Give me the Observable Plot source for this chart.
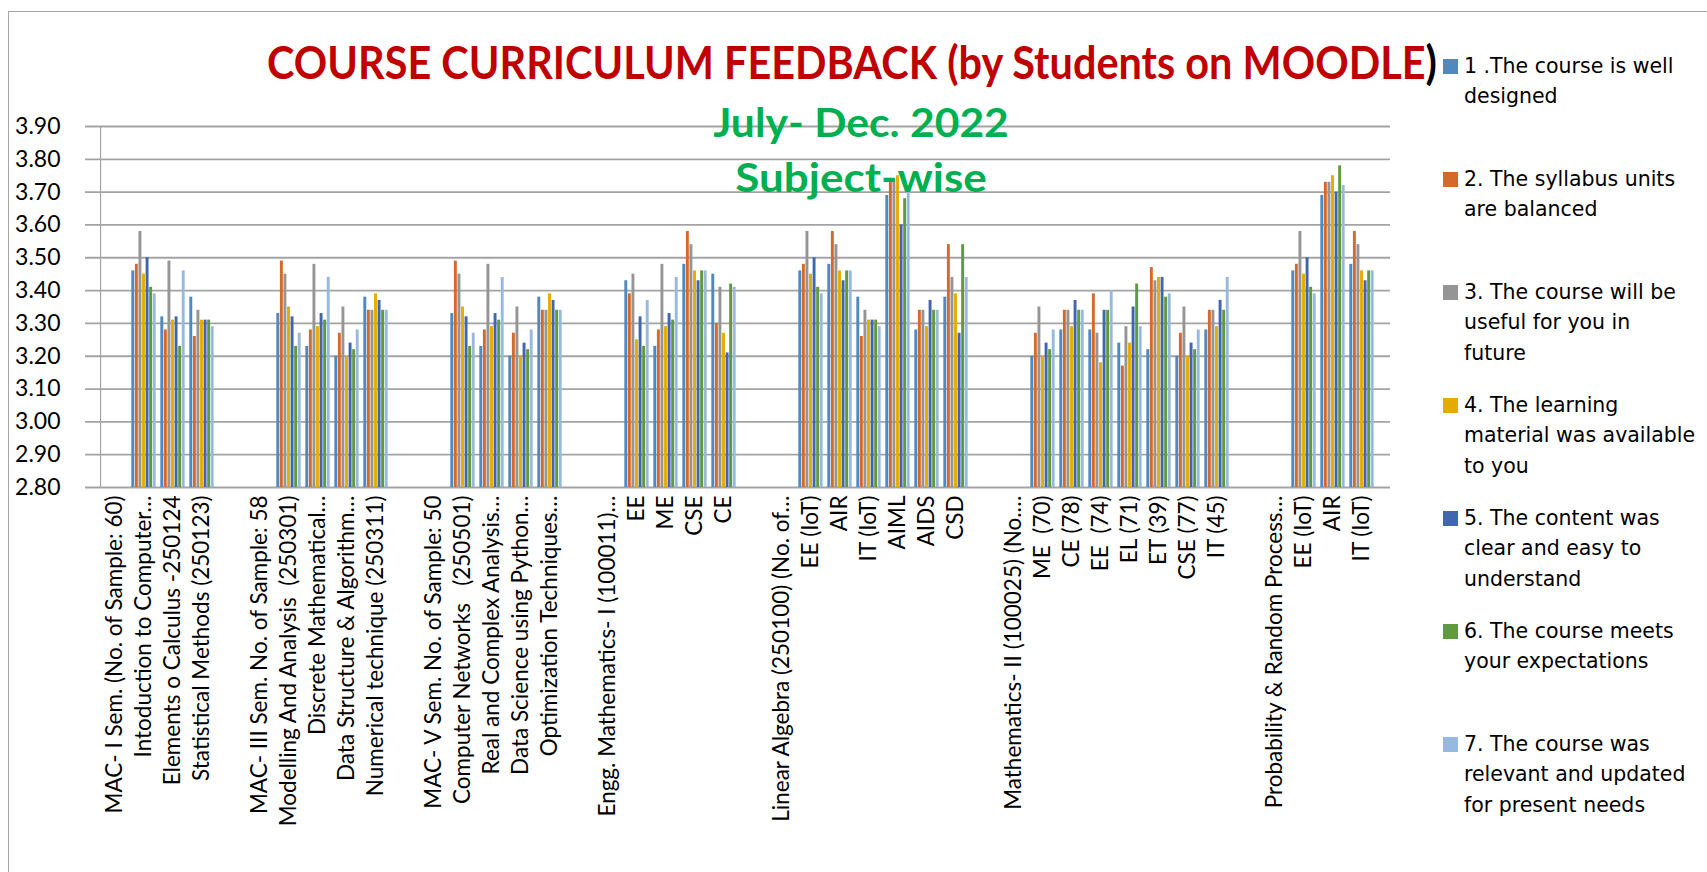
<!DOCTYPE html>
<html>
<head>
<meta charset="utf-8">
<script src="https://cdn.jsdelivr.net/npm/d3@7"></script>
<script src="https://cdn.jsdelivr.net/npm/@observablehq/plot@0.6"></script>
<style>
  body { margin: 0; background: #fff; }
  #wrap { position: relative; width: 1707px; height: 872px; overflow: hidden; background: #fff; }
  #frame { position: absolute; left: 8px; top: 11px; width: 1800px; height: 1000px;
           border-left: 1.5px solid #a6a6a6; border-top: 1.5px solid #a6a6a6; }
  #chart { position: absolute; left: 0; top: 0; }
  .ttl { position: absolute; white-space: nowrap; font-family: Lato, sans-serif; font-weight: 700;
         line-height: 1; transform-origin: center center; }
  .leg { position: absolute; left: 1443px; font-family: "DejaVu Sans", sans-serif; font-size: 20.5px;
         line-height: 30.5px; color: #000; }
  .leg .sw { position: absolute; left: 0; top: 7.75px; width: 15px; height: 15px; }
  .leg .tx { position: absolute; left: 21px; top: 0; white-space: pre; }
  g[aria-label="y-axis tick label"] text, g[aria-label="y-axis"] text { font-size: 23px; }
</style>
</head>
<body>
<div id="wrap">
  <div id="frame"></div>
  <div id="chart"></div>
  <div id="title" class="ttl" style="color:#C00000;font-size:46px">COURSE CURRICULUM FEEDBACK (by Students on MOODLE<span style="color:#000">)</span></div>
  <div id="sub1" class="ttl" style="color:#00B050;font-size:40px">July- Dec. 2022</div>
  <div id="sub2" class="ttl" style="color:#00B050;font-size:40px">Subject-wise</div>
  <div id="legend"></div>
</div>
<script>
// ---------------- data ----------------
const categories = [
  "MAC- I Sem. (No. of Sample: 60)",
  "Intoduction to Computer…",
  "Elements o Calculus -250124",
  "Statistical Methods (250123)",
  "",
  "MAC- III Sem. No. of Sample: 58",
  "Modelling And Analysis  (250301)",
  "Discrete Mathematical…",
  "Data Structure & Algorithm…",
  "Numerical technique (250311)",
  "",
  "MAC- V Sem. No. of Sample: 50",
  "Computer Networks   (250501)",
  "Real and Complex Analysis…",
  "Data Science using Python…",
  "Optimization Techniques…",
  "",
  "Engg. Mathematics- I (100011)…",
  "EE",
  "ME",
  "CSE",
  "CE",
  "",
  "Linear Algebra (250100) (No. of…",
  "EE (IoT)",
  "AIR",
  "IT (IoT)",
  "AIML",
  "AIDS",
  "CSD",
  "",
  "Mathematics- II (100025) (No.…",
  "ME  (70)",
  "CE (78)",
  "EE  (74)",
  "EL (71)",
  "ET (39)",
  "CSE (77)",
  "IT (45)",
  "",
  "Probability & Random Process…",
  "EE (IoT)",
  "AIR",
  "IT (IoT)"
];

const seriesNames = [
  "1 .The course is well\ndesigned",
  "2. The syllabus units\nare balanced",
  "3. The course will be\nuseful for you in\nfuture",
  "4. The learning\nmaterial was available\nto you",
  "5. The content was\nclear and easy to\nunderstand",
  "6. The course meets\nyour expectations",
  "7. The course was\nrelevant and updated\nfor present needs"
];

const colors = ["#4E8AC0", "#D5692C", "#959595", "#E5AC00", "#3F66AE", "#5F9A3F", "#97B9E0"];

const s1 = [null,3.46,3.32,3.38,null,null,3.33,3.23,3.20,3.38,null,null,3.33,3.23,3.20,3.38,null,null,3.43,3.23,3.48,3.45,null,null,3.46,3.48,3.38,3.69,3.28,3.38,null,null,3.20,3.28,3.28,3.24,3.22,3.20,3.28,null,null,3.46,3.69,3.48];
const s2 = [null,3.48,3.28,3.26,null,null,3.49,3.28,3.27,3.34,null,null,3.49,3.28,3.27,3.34,null,null,3.39,3.28,3.58,3.30,null,null,3.48,3.58,3.26,3.73,3.34,3.54,null,null,3.27,3.34,3.39,3.17,3.47,3.27,3.34,null,null,3.48,3.73,3.58];
const s3 = [null,3.58,3.49,3.34,null,null,3.45,3.48,3.35,3.34,null,null,3.45,3.48,3.35,3.34,null,null,3.45,3.48,3.54,3.41,null,null,3.58,3.54,3.34,3.73,3.34,3.44,null,null,3.35,3.34,3.27,3.29,3.43,3.35,3.34,null,null,3.58,3.73,3.54];
const s4 = [null,3.45,3.31,3.31,null,null,3.35,3.29,3.20,3.39,null,null,3.35,3.29,3.20,3.39,null,null,3.25,3.29,3.46,3.27,null,null,3.45,3.46,3.31,3.75,3.29,3.39,null,null,3.20,3.29,3.18,3.24,3.44,3.20,3.29,null,null,3.45,3.75,3.46];
const s5 = [null,3.50,3.32,3.31,null,null,3.32,3.33,3.24,3.37,null,null,3.32,3.33,3.24,3.37,null,null,3.32,3.33,3.43,3.21,null,null,3.50,3.43,3.31,3.60,3.37,3.27,null,null,3.24,3.37,3.34,3.35,3.44,3.24,3.37,null,null,3.50,3.70,3.43];
const s6 = [null,3.41,3.23,3.31,null,null,3.23,3.31,3.22,3.34,null,null,3.23,3.31,3.22,3.34,null,null,3.23,3.31,3.46,3.42,null,null,3.41,3.46,3.31,3.68,3.34,3.54,null,null,3.22,3.34,3.34,3.42,3.38,3.22,3.34,null,null,3.41,3.78,3.46];
const s7 = [null,3.39,3.46,3.29,null,null,3.27,3.44,3.28,3.34,null,null,3.27,3.44,3.28,3.34,null,null,3.37,3.44,3.46,3.41,null,null,3.39,3.46,3.29,3.72,3.34,3.44,null,null,3.28,3.34,3.40,3.29,3.39,3.28,3.44,null,null,3.39,3.72,3.46];

const yTicks = [2.80, 2.90, 3.00, 3.10, 3.20, 3.30, 3.40, 3.50, 3.60, 3.70, 3.80, 3.90];

// ---------------- layout ----------------
const W = 1707, H = 872;
const mL = 85, mR = 317, mT = 126, mB = 385;
const n = categories.length;
const bw = (W - mL - mR) / n;
const groupW = bw * 0.843;
const barW = groupW / 7;
const off = (bw - groupW) / 2;
const gridColor = "#a3a3a3";

const allSeries = [s1, s2, s3, s4, s5, s6, s7];
const rows = [];
allSeries.forEach((arr, s) => arr.forEach((v, i) => { if (v != null) rows.push({cat: i, s, v}); }));

const barMarks = allSeries.map((arr, s) =>
  Plot.barY(rows.filter(d => d.s === s), {
    x: "cat",
    y1: yTicks[0],
    y2: "v",
    fill: colors[s],
    insetLeft: off + s * barW,
    insetRight: bw - off - (s + 1) * barW
  })
);

const chart = Plot.plot({
  width: W,
  height: H,
  marginLeft: mL,
  marginRight: mR,
  marginTop: mT,
  marginBottom: mB,
  style: {fontFamily: "Lato, sans-serif", fontSize: "22.5px", color: "#000", background: "transparent", overflow: "visible"},
  x: {type: "band", domain: d3.range(n), padding: 0, tickFormat: i => categories[i], tickRotate: -90, tickSize: 0, tickPadding: 8, label: null},
  y: {domain: [yTicks[0], yTicks[yTicks.length - 1]], ticks: yTicks, tickFormat: d3.format(".2f"), tickSize: 0, tickPadding: 25, label: null},
  marks: [
    Plot.ruleY(yTicks, {stroke: gridColor, strokeWidth: 1.8}),
    Plot.barY([0], {x: d => d, y1: yTicks[0], y2: yTicks[yTicks.length - 1], fill: gridColor, insetRight: bw - 1.8}),
    ...barMarks
  ]
});
document.getElementById("chart").appendChild(chart);

// ---------------- legend ----------------
const legend = document.getElementById("legend");
seriesNames.forEach((name, i) => {
  const item = document.createElement("div");
  item.className = "leg";
  item.style.top = (66 + i * 113 - 15.25) + "px";
  const sw = document.createElement("div");
  sw.className = "sw";
  sw.style.background = colors[i];
  const tx = document.createElement("div");
  tx.className = "tx";
  tx.textContent = name;
  item.appendChild(sw);
  item.appendChild(tx);
  legend.appendChild(item);
});

// ---------------- titles ----------------
function fit(id, targetW, cx, cy) {
  const el = document.getElementById(id);
  el.style.transform = "none";
  el.style.left = cx + "px";
  el.style.top = cy + "px";
  const w = el.offsetWidth;
  const k = targetW / w;
  el.style.transform = `translate(-50%, -50%) scaleX(${k})`;
}
function layoutTitles() {
  fit("title", 1170, 852, 62);
  fit("sub1", 296, 861, 122);
  fit("sub2", 252, 861, 177);
}
layoutTitles();
if (document.fonts && document.fonts.ready) document.fonts.ready.then(layoutTitles);
</script>
</body>
</html>
